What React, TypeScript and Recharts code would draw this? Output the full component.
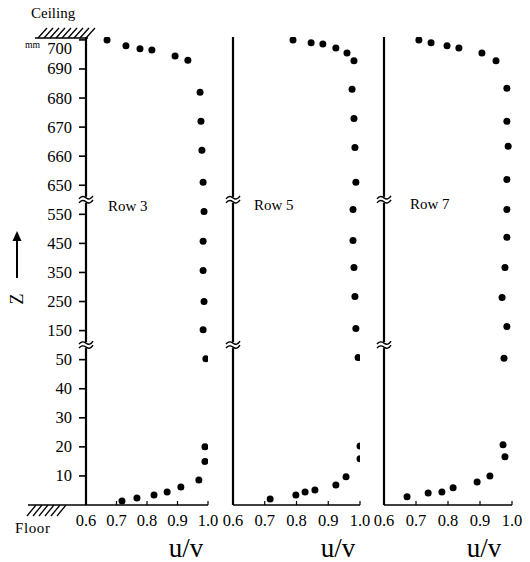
import React from 'react';
import { ScatterChart, Scatter, XAxis, YAxis } from 'recharts';

// ---- data ----
const row3U = [0.669, 0.731, 0.777, 0.816, 0.892, 0.934, 0.974, 0.977, 0.980, 0.984, 0.987, 0.984, 0.984, 0.987, 0.984, 0.993, 0.990, 0.990, 0.970, 0.911, 0.866, 0.823, 0.767, 0.718];
const row3Z = [700, 698, 697, 696.5, 694.5, 693, 682, 672, 662, 651, 560, 457, 357, 250, 153, 53, 20, 15, 8.6, 6.2, 4.5, 3.4, 2.4, 1.4];

const row5U = [0.789, 0.846, 0.883, 0.924, 0.959, 0.981, 0.975, 0.981, 0.984, 0.987, 0.978, 0.978, 0.981, 0.984, 0.987, 0.994, 1.0, 1.0, 0.956, 0.924, 0.858, 0.827, 0.798, 0.717];
const row5Z = [700, 699, 698.6, 697.2, 695.5, 692.8, 683, 673, 663, 651, 567, 460, 367, 267, 157, 57, 20.3, 15.9, 9.7, 6.9, 5.2, 4.5, 3.4, 2.1];

const row7U = [0.709, 0.747, 0.797, 0.834, 0.906, 0.950, 0.984, 0.984, 0.988, 0.984, 0.984, 0.984, 0.978, 0.969, 0.984, 0.975, 0.972, 0.978, 0.931, 0.891, 0.816, 0.781, 0.738, 0.672];
const row7Z = [700, 699, 698, 697.2, 695.5, 692.8, 683.4, 672, 663.4, 652, 567, 471, 367, 264, 164, 55, 20.7, 16.6, 10, 7.9, 5.9, 4.5, 4.1, 2.8];

const zTickLabels = [10, 20, 30, 40, 50, 150, 250, 350, 450, 550, 650, 660, 670, 680, 690, 700];
const uTicks = [0.6, 0.7, 0.8, 0.9, 1.0];
const rowNames = ['Row 3', 'Row 5', 'Row 7'];

// broken-axis transform: z (mm) -> evenly spaced axis units
function toT(z: number): number {
  if (z <= 50) return z / 10;
  if (z <= 150) return 5 + (z - 50) / 100;
  if (z <= 550) return 6 + (z - 150) / 100;
  if (z <= 650) return 10 + (z - 550) / 100;
  return 11 + (z - 650) / 10;
}
const yTicks = zTickLabels.map(toT);
const labelFor = (t: number) => {
  const i = yTicks.findIndex((v) => Math.abs(v - t) < 1e-6);
  return i >= 0 ? String(zTickLabels[i]) : '';
};

const build = (us: number[], zs: number[]) => us.map((u, i) => ({ u, t: toT(zs[i]) }));
const rows = [build(row3U, row3Z), build(row5U, row5Z), build(row7U, row7Z)];

const FONT = 'Liberation Serif, DejaVu Serif, serif';
const Y_DOMAIN: [number, number] = [0, 16.1];

const Dot = (p: any) => <circle cx={p.cx} cy={p.cy} r={3.5} fill="#000" />;

const XTick = (p: any) => {
  const { x, y, payload } = p;
  return (
    <g>
      <line x1={x} x2={x} y1={y} y2={y - 4} stroke="#000" strokeWidth={1.2} />
      <text x={x} y={y + 21} textAnchor="middle" fontSize={16.5} fontFamily={FONT} fill="#000">
        {Number(payload.value).toFixed(1)}
      </text>
    </g>
  );
};

const YTick = (p: any) => {
  const { x, y, payload } = p;
  const lab = labelFor(payload.value);
  const dy = lab === '700' ? 9 : 0;
  return (
    <g>
      <line x1={x - 7} x2={x} y1={y} y2={y} stroke="#000" strokeWidth={1.6} />
      <text x={x - 14} y={y + dy + 5.5} textAnchor="end" fontSize={16.5} fontFamily={FONT} fill="#000">
        {lab}
      </text>
    </g>
  );
};

const panels = [
  { left: 0, width: 230, margin: { top: 37, right: 22, bottom: 17, left: 26 }, yw: 60, showY: true },
  { left: 220, width: 150, margin: { top: 37, right: 10, bottom: 17, left: 13 }, yw: 0, showY: false },
  { left: 370, width: 160, margin: { top: 37, right: 18, bottom: 17, left: 14 }, yw: 0, showY: false },
];

const axisX = [86, 233, 384];
const yPix = (t: number) => 505 - t * (465 / 16);

function BreakMark({ x, y }: { x: number; y: number }) {
  return (
    <g>
      <rect x={x - 6} y={y - 3} width={12} height={6} fill="#fff" />
      <path d={`M${x - 7} ${y - 1} q3 -4 7 -1 t7 -2`} fill="none" stroke="#000" strokeWidth={1.4} />
      <path d={`M${x - 7} ${y + 3} q3 -4 7 -1 t7 -2`} fill="none" stroke="#000" strokeWidth={1.4} />
    </g>
  );
}

export default function App() {
  const ceilHatch = [];
  for (let x = 38; x <= 86; x += 6) ceilHatch.push(<line key={x} x1={x} y1={38} x2={x + 9} y2={28} stroke="#000" strokeWidth={1.3} />);
  const floorHatch = [];
  for (let x = 36; x <= 70; x += 6) floorHatch.push(<line key={x} x1={x} y1={505} x2={x - 9} y2={516} stroke="#000" strokeWidth={1.3} />);

  return (
    <div style={{ position: 'absolute', left: 0, top: 0, width: 530, height: 562, background: '#fff' }}>
      {panels.map((pn, k) => (
        <div key={k} style={{ position: 'absolute', left: pn.left, top: 0 }}>
          <ScatterChart width={pn.width} height={562} margin={pn.margin}>
            <XAxis
              type="number"
              dataKey="u"
              domain={[0.6, 1.0]}
              ticks={uTicks}
              allowDataOverflow
              height={40}
              tickSize={0}
              tickMargin={0}
              tickLine={false}
              tick={<XTick />}
              axisLine={{ stroke: '#000', strokeWidth: 1.6 }}
            />
            {pn.showY ? (
              <YAxis
                type="number"
                dataKey="t"
                domain={Y_DOMAIN}
                ticks={yTicks}
                allowDataOverflow
                width={pn.yw}
                tickSize={0}
                tickMargin={0}
                tickLine={false}
                tick={<YTick />}
                axisLine={false}
              />
            ) : (
              <YAxis
                type="number"
                dataKey="t"
                domain={Y_DOMAIN}
                allowDataOverflow
                width={0}
                tick={false}
                tickLine={false}
                axisLine={false}
              />
            )}
            <Scatter data={rows[k]} shape={<Dot />} isAnimationActive={false} />
          </ScatterChart>
        </div>
      ))}
      <svg width={530} height={562} style={{ position: 'absolute', left: 0, top: 0, pointerEvents: 'none' }}>
        {/* vertical axis lines */}
        <path d={`M86 37 V505 M233 37 V505 M384 37 V505`} stroke="#000" strokeWidth={2.2} fill="none" />
        {/* ceiling */}
        <text x={31} y={18} fontSize={15} fontFamily={FONT} fill="#000">Ceiling</text>
        <line x1={35} y1={38} x2={88} y2={38} stroke="#000" strokeWidth={1.5} />
        {ceilHatch}
        <text x={25} y={48} fontSize={10} fontFamily={FONT} fill="#000" textLength={15} lengthAdjust="spacingAndGlyphs">mm</text>
        {/* floor */}
        <line x1={28} y1={505} x2={86} y2={505} stroke="#000" strokeWidth={1.5} />
        {floorHatch}
        <text x={15} y={533} fontSize={15} fontFamily={FONT} fill="#000" letterSpacing={0.6}>Floor</text>
        {/* z arrow and label */}
        <line x1={17} y1={278} x2={17} y2={238} stroke="#000" strokeWidth={2} />
        <path d="M12.5 241 L17 231 L21.5 241 Z" fill="#000" />
        <text x={0} y={0} fontSize={18} fontFamily={FONT} fill="#000" textAnchor="middle" transform="translate(23 299) rotate(-90)">Z</text>
        {/* row names */}
        <text x={108} y={211} fontSize={15} fontFamily={FONT} fill="#000">{rowNames[0]}</text>
        <text x={254} y={210} fontSize={15} fontFamily={FONT} fill="#000">{rowNames[1]}</text>
        <text x={410} y={209} fontSize={15} fontFamily={FONT} fill="#000">{rowNames[2]}</text>
        {/* u/v labels */}
        {[186, 338, 484].map((cx, i) => (
          <text key={i} x={cx} y={557} fontSize={27} fontFamily={FONT} fill="#000" textAnchor="middle">u/v</text>
        ))}
        {/* axis breaks */}
        {axisX.map((x) => (
          <g key={x}>
            <BreakMark x={x} y={yPix(10.5)} />
            <BreakMark x={x} y={yPix(5.5)} />
          </g>
        ))}
      </svg>
    </div>
  );
}
